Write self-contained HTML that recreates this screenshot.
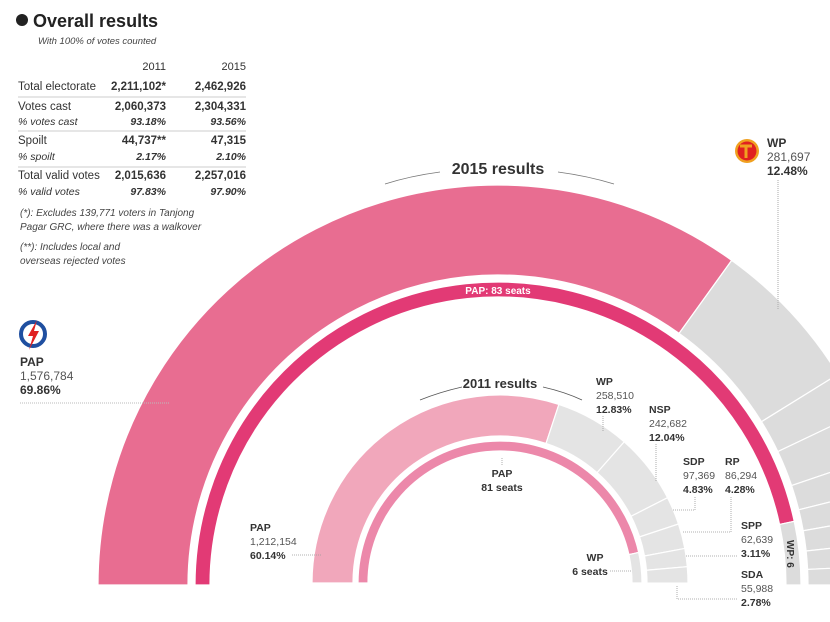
<!DOCTYPE html>
<html><head><meta charset="utf-8"><style>
body{margin:0;background:#fff}
svg{display:block;font-family:"Liberation Sans",sans-serif}
.b{font-weight:bold;fill:#333}
.n{fill:#555}
</style></head><body>
<svg id="s" width="830" height="622" viewBox="0 0 830 622">
<g id="arcs"></g>
<g font-size="11.5" fill="#333">
<circle cx="22" cy="20" r="6" fill="#222"/>
<text x="33" y="27" font-size="18" font-weight="bold" fill="#222">Overall results</text>
<text x="38" y="44" font-size="9.5" font-style="italic" fill="#444">With 100% of votes counted</text>
<text x="166" y="70" text-anchor="end" font-size="11">2011</text>
<text x="246" y="70" text-anchor="end" font-size="11">2015</text>
<text x="18" y="90">Total electorate</text><text x="166" y="90" text-anchor="end" font-weight="bold">2,211,102*</text><text x="246" y="90" text-anchor="end" font-weight="bold">2,462,926</text>
<line x1="18" y1="97" x2="246" y2="97" stroke="#ccc"/>
<text x="18" y="110">Votes cast</text><text x="166" y="110" text-anchor="end" font-weight="bold">2,060,373</text><text x="246" y="110" text-anchor="end" font-weight="bold">2,304,331</text>
<text x="18" y="125" font-style="italic" font-size="10.5">% votes cast</text><text x="166" y="125" text-anchor="end" font-weight="bold" font-style="italic" font-size="10.5">93.18%</text><text x="246" y="125" text-anchor="end" font-weight="bold" font-style="italic" font-size="10.5">93.56%</text>
<line x1="18" y1="131" x2="246" y2="131" stroke="#ccc"/>
<text x="18" y="144">Spoilt</text><text x="166" y="144" text-anchor="end" font-weight="bold">44,737**</text><text x="246" y="144" text-anchor="end" font-weight="bold">47,315</text>
<text x="18" y="160" font-style="italic" font-size="10.5">% spoilt</text><text x="166" y="160" text-anchor="end" font-weight="bold" font-style="italic" font-size="10.5">2.17%</text><text x="246" y="160" text-anchor="end" font-weight="bold" font-style="italic" font-size="10.5">2.10%</text>
<line x1="18" y1="167" x2="246" y2="167" stroke="#ccc"/>
<text x="18" y="179">Total valid votes</text><text x="166" y="179" text-anchor="end" font-weight="bold">2,015,636</text><text x="246" y="179" text-anchor="end" font-weight="bold">2,257,016</text>
<text x="18" y="195" font-style="italic" font-size="10.5">% valid votes</text><text x="166" y="195" text-anchor="end" font-weight="bold" font-style="italic" font-size="10.5">97.83%</text><text x="246" y="195" text-anchor="end" font-weight="bold" font-style="italic" font-size="10.5">97.90%</text>
<g font-size="10" font-style="italic" fill="#444">
<text x="20" y="216">(*): Excludes 139,771 voters in Tanjong</text>
<text x="20" y="230">Pagar GRC, where there was a walkover</text>
<text x="20" y="250">(**): Includes local and</text>
<text x="20" y="264">overseas rejected votes</text>
</g>
</g>
<!-- 2015 labels -->
<text x="498" y="174" text-anchor="middle" font-size="16" font-weight="bold" fill="#333">2015 results</text>
<path d="M385,184 Q410,176 440,172" stroke="#777" fill="none" stroke-width="0.8"/>
<path d="M558,172 Q588,176 614,184" stroke="#777" fill="none" stroke-width="0.8"/>
<circle cx="747" cy="151" r="12" fill="#f0a020"/><circle cx="747" cy="151" r="9.5" fill="#e02020"/>
<path d="M740,146 L752,146 M746,146 L746,158" stroke="#f0a020" stroke-width="3"/>
<g font-size="12">
<text x="767" y="147" class="b">WP</text><text x="767" y="161" class="n">281,697</text><text x="767" y="175" class="b">12.48%</text>
<text x="20" y="366" class="b">PAP</text><text x="20" y="380" class="n">1,576,784</text><text x="20" y="394" class="b">69.86%</text>
</g>
<line x1="778" y1="180" x2="778" y2="310" stroke="#aaa" stroke-dasharray="1,1"/>
<line x1="20" y1="403" x2="170" y2="403" stroke="#bbb" stroke-dasharray="1,1"/>
<circle cx="33" cy="334" r="12" fill="none" stroke="#1f4fa0" stroke-width="4"/>
<path d="M37,320 L28,336 L33,336 L29,350 L39,331 L34,331 Z" fill="#e02020"/>
<!-- 2011 labels -->
<text x="500" y="388" text-anchor="middle" font-size="13" font-weight="bold" fill="#333">2011 results</text>
<path d="M420,400 Q440,392 462,387" stroke="#555" fill="none" stroke-width="0.8"/>
<path d="M543,387 Q565,392 582,400" stroke="#555" fill="none" stroke-width="0.8"/>
<g font-size="10.5">
<text x="596" y="385" class="b">WP</text><text x="596" y="399" class="n">258,510</text><text x="596" y="413" class="b">12.83%</text>
<text x="649" y="413" class="b">NSP</text><text x="649" y="427" class="n">242,682</text><text x="649" y="441" class="b">12.04%</text>
<text x="683" y="465" class="b">SDP</text><text x="683" y="479" class="n">97,369</text><text x="683" y="493" class="b">4.83%</text>
<text x="725" y="465" class="b">RP</text><text x="725" y="479" class="n">86,294</text><text x="725" y="493" class="b">4.28%</text>
<text x="741" y="529" class="b">SPP</text><text x="741" y="543" class="n">62,639</text><text x="741" y="557" class="b">3.11%</text>
<text x="741" y="578" class="b">SDA</text><text x="741" y="592" class="n">55,988</text><text x="741" y="606" class="b">2.78%</text>
<text x="502" y="477" text-anchor="middle" class="b">PAP</text><text x="502" y="491" text-anchor="middle" class="b">81 seats</text>
<text x="250" y="531" class="b">PAP</text><text x="250" y="545" class="n">1,212,154</text><text x="250" y="559" class="b">60.14%</text>
<text x="595" y="561" text-anchor="middle" class="b">WP</text><text x="590" y="575" text-anchor="middle" class="b">6 seats</text>
</g>
<g stroke="#999" stroke-dasharray="1,1" fill="none" stroke-width="0.8">
<line x1="603" y1="416" x2="603" y2="432"/>
<line x1="656" y1="444" x2="656" y2="482"/>
<polyline points="695,497 695,510 672,510"/>
<polyline points="731,497 731,532 683,532"/>
<line x1="737" y1="556" x2="685" y2="556"/>
<polyline points="737,599 677,599 677,585"/>
<line x1="610" y1="571" x2="632" y2="571"/>
<line x1="292" y1="555" x2="322" y2="555"/>
<line x1="502" y1="458" x2="502" y2="466"/>
</g>
<text x="0" y="0" font-size="10" font-weight="bold" fill="#333" transform="translate(787,540) rotate(90)">WP: 6</text>
<text x="0" y="0" font-size="10" font-weight="bold" fill="#fff" text-anchor="middle" transform="translate(498,294)">PAP: 83 seats</text>
</svg>
<script>
function P(cx,cy,r1,r2,a0,a1){ // angles in degrees from left (0) to right (180)
 function pt(r,a){var t=Math.PI*(1-a/180);return [cx+r*Math.cos(t),cy-r*Math.sin(t)];}
 var A=pt(r2,a0),B=pt(r2,a1),C=pt(r1,a1),D=pt(r1,a0);var l=(a1-a0)>180?1:0;
 return "M"+A+" A"+r2+","+r2+" 0 "+l+" 1 "+B+" L"+C+" A"+r1+","+r1+" 0 "+l+" 0 "+D+"Z";}
var g=document.getElementById('arcs'),h='';
function add(cx,cy,r1,r2,parts,cols){var a=0;parts.forEach(function(p,i){var b=a+p*1.8;h+='<path d="'+P(cx,cy,r1,r2,a,b)+'" fill="'+cols[i]+'" stroke="#fff" stroke-width="1.2"/>';a=b;});}
add(498,585,310,400,[69.86,12.48,3.5,3.76,2.6,2.2,2.1,1.9,1.6],['#e86d91','#dcdcdc','#dcdcdc','#dcdcdc','#dcdcdc','#dcdcdc','#dcdcdc','#dcdcdc','#dcdcdc']);
add(498,585,288,303,[83/89*100,6/89*100],['#e23a75','#dcdcdc']);
add(500,583,147,188,[60.14,12.83,12.04,4.83,4.28,3.11,2.78],['#f1a7bb','#e4e4e4','#e4e4e4','#e4e4e4','#e4e4e4','#e4e4e4','#e4e4e4']);
add(500,583,132,142,[81/87*100,6/87*100],['#ec88aa','#e4e4e4']);
g.innerHTML=h;
</script>
</body></html>
